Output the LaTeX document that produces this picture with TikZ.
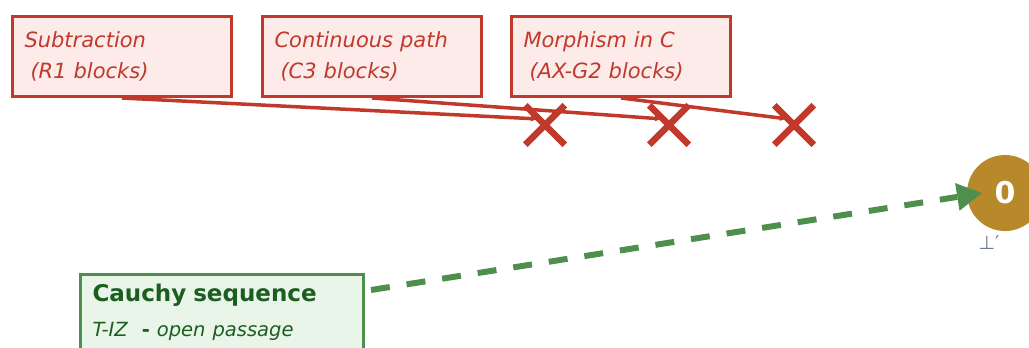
\documentclass[tikz,border=0pt]{standalone}
\usepackage{fontspec}
\setmainfont{DejaVu Sans}
\usepackage{xcolor}
\usepackage{tikz}
\usetikzlibrary{arrows.meta}
\usetikzlibrary{shapes.misc}
\usetikzlibrary{calc}
\definecolor{blockred}{HTML}{C0392B}
\definecolor{blockfill}{HTML}{FDEBEA}
\definecolor{passgreen}{HTML}{4E8F4E}
\definecolor{passfill}{HTML}{E8F5E8}
\definecolor{passtext}{HTML}{1B5E20}
\definecolor{zerogold}{HTML}{B8892A}
\definecolor{labelgray}{HTML}{6B7B8C}
\begin{document}
\begin{tikzpicture}[x=1pt,y=-1pt,
  redbox/.style={draw=blockred,fill=blockfill,line width=3pt,anchor=north west,
    minimum width=219pt,minimum height=80pt,text width=195pt,inner xsep=12pt,
    align=left,text=blockred,font=\fontsize{21}{31}\selectfont\itshape},
  greenbox/.style={draw=passgreen,fill=passfill,line width=3pt,anchor=north west,
    minimum width=283pt,text width=259pt,inner xsep=12pt,inner ysep=10pt,
    align=left,text=passtext,font=\fontsize{21}{35}\selectfont},
  blockx/.style={cross out,draw=blockred,line width=6.5pt,minimum size=33pt,inner sep=0pt},
  blockline/.style={draw=blockred,line width=3.5pt,-{Latex[length=8pt,width=6pt]}},
  zeronode/.style={circle,fill=zerogold,minimum size=76pt,inner sep=0pt,
    text=white,font=\fontsize{30}{30}\selectfont\bfseries}]
\useasboundingbox (0,0) rectangle (1029,348);
% blocked routes
\node[redbox] (sub) at (11,15) {Subtraction\\ \hspace{6pt}(R1 blocks)};
\node[redbox] (cont) at (261,15) {Continuous path\\ \hspace{6pt}(C3 blocks)};
\node[redbox] (morph) at (510,15) {Morphism in C\\ \hspace{6pt}(AX-G2 blocks)};
\node[blockx] (x1) at (545,125) {};
\node[blockx] (x2) at (669,125) {};
\node[blockx] (x3) at (794,125) {};
\draw[blockline] (sub.south) -- ($(x1.center)+(-6,-6)$);
\draw[blockline] (cont.south) -- ($(x2.center)+(-6,-6)$);
\draw[blockline] (morph.south) -- ($(x3.center)+(-6,-6)$);
% open passage
\node[zeronode] (zero) at (1005,193) {\raisebox{-3pt}{0}};
\node[text=labelgray,font=\fontsize{19}{19}\selectfont] (bot) at (989,243) {⊥′};
\node[greenbox] (cauchy) at (79,273) {{\fontsize{23}{35}\selectfont\bfseries Cauchy sequence}\\
  {\fontsize{19.5}{35}\selectfont\itshape T-IZ \ {\upshape\bfseries -} open passage}};
\coordinate (gstart) at ($(cauchy.north east)+(6,17)$);
\coordinate (gend) at ($(zero.center)+(-23,0)$);
\draw[passgreen,line width=6pt,dash pattern=on 19pt off 17pt,
  -{Triangle[length=25pt,width=28pt,line width=0pt]}] (gstart) -- (gend);
\end{tikzpicture}
\end{document}
